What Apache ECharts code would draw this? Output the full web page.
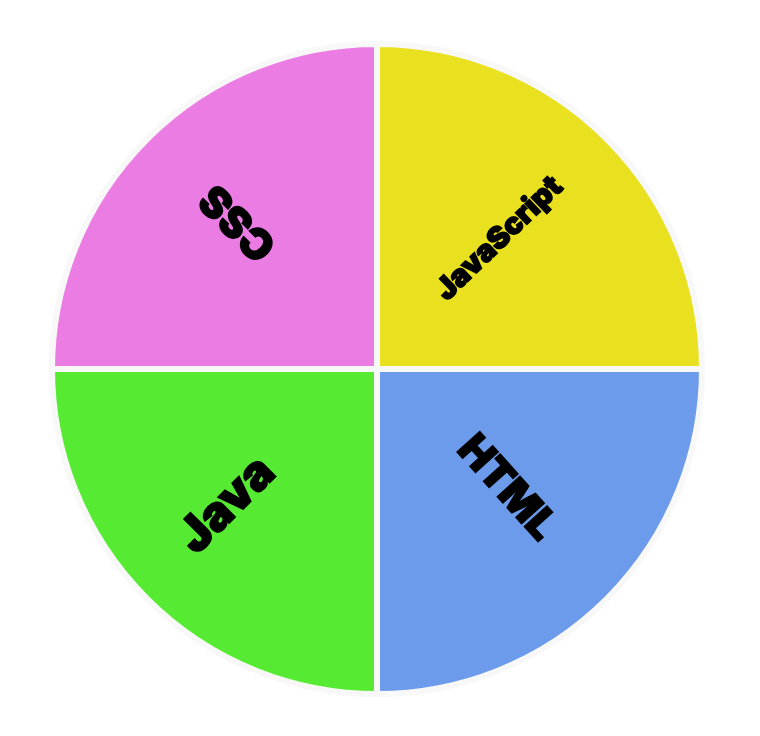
<!DOCTYPE html>
<html><head><meta charset="utf-8">
<script src="https://cdn.jsdelivr.net/npm/echarts@6/dist/echarts.min.js"></script>
<style>html,body{margin:0;padding:0;background:#fff}#c{width:760px;height:736px}</style>
</head><body><div id="c"></div>
<script>
const categories = ['JavaScript', 'HTML', 'Java', 'CSS'];
const values = [25, 25, 25, 25];
const colors = ['#E9E11F', '#6B9BEA', '#56EA32', '#EB7CE3'];
const labelRotations = [44, -48, 45, 135];
const labelSizes = [30, 42, 48, 42];
const labelShift = [[13, -6], [10, -8], [-37, -10], [36, 6]];

const chart = echarts.init(document.getElementById('c'));
chart.setOption({
  backgroundColor: '#ffffff',
  animation: false,
  series: [{
    type: 'pie',
    center: [377, 369],
    radius: [0, 325],
    startAngle: 90,
    clockwise: true,
    silent: true,
    itemStyle: { borderColor: '#f8f8f8', borderWidth: 6 },
    label: {
      position: 'inside',
      color: '#000',
      fontFamily: 'Inter, Roboto, sans-serif',
      fontWeight: 900,
      textBorderColor: '#000',
      textBorderWidth: 1.5
    },
    labelLine: { show: false },
    labelLayout: function (p) {
      return { dx: labelShift[p.dataIndex][0], dy: labelShift[p.dataIndex][1] };
    },
    data: categories.map((c, i) => ({
      name: c,
      value: values[i],
      itemStyle: { color: colors[i] },
      label: { rotate: labelRotations[i], fontSize: labelSizes[i] }
    }))
  }]
});
</script></body></html>
